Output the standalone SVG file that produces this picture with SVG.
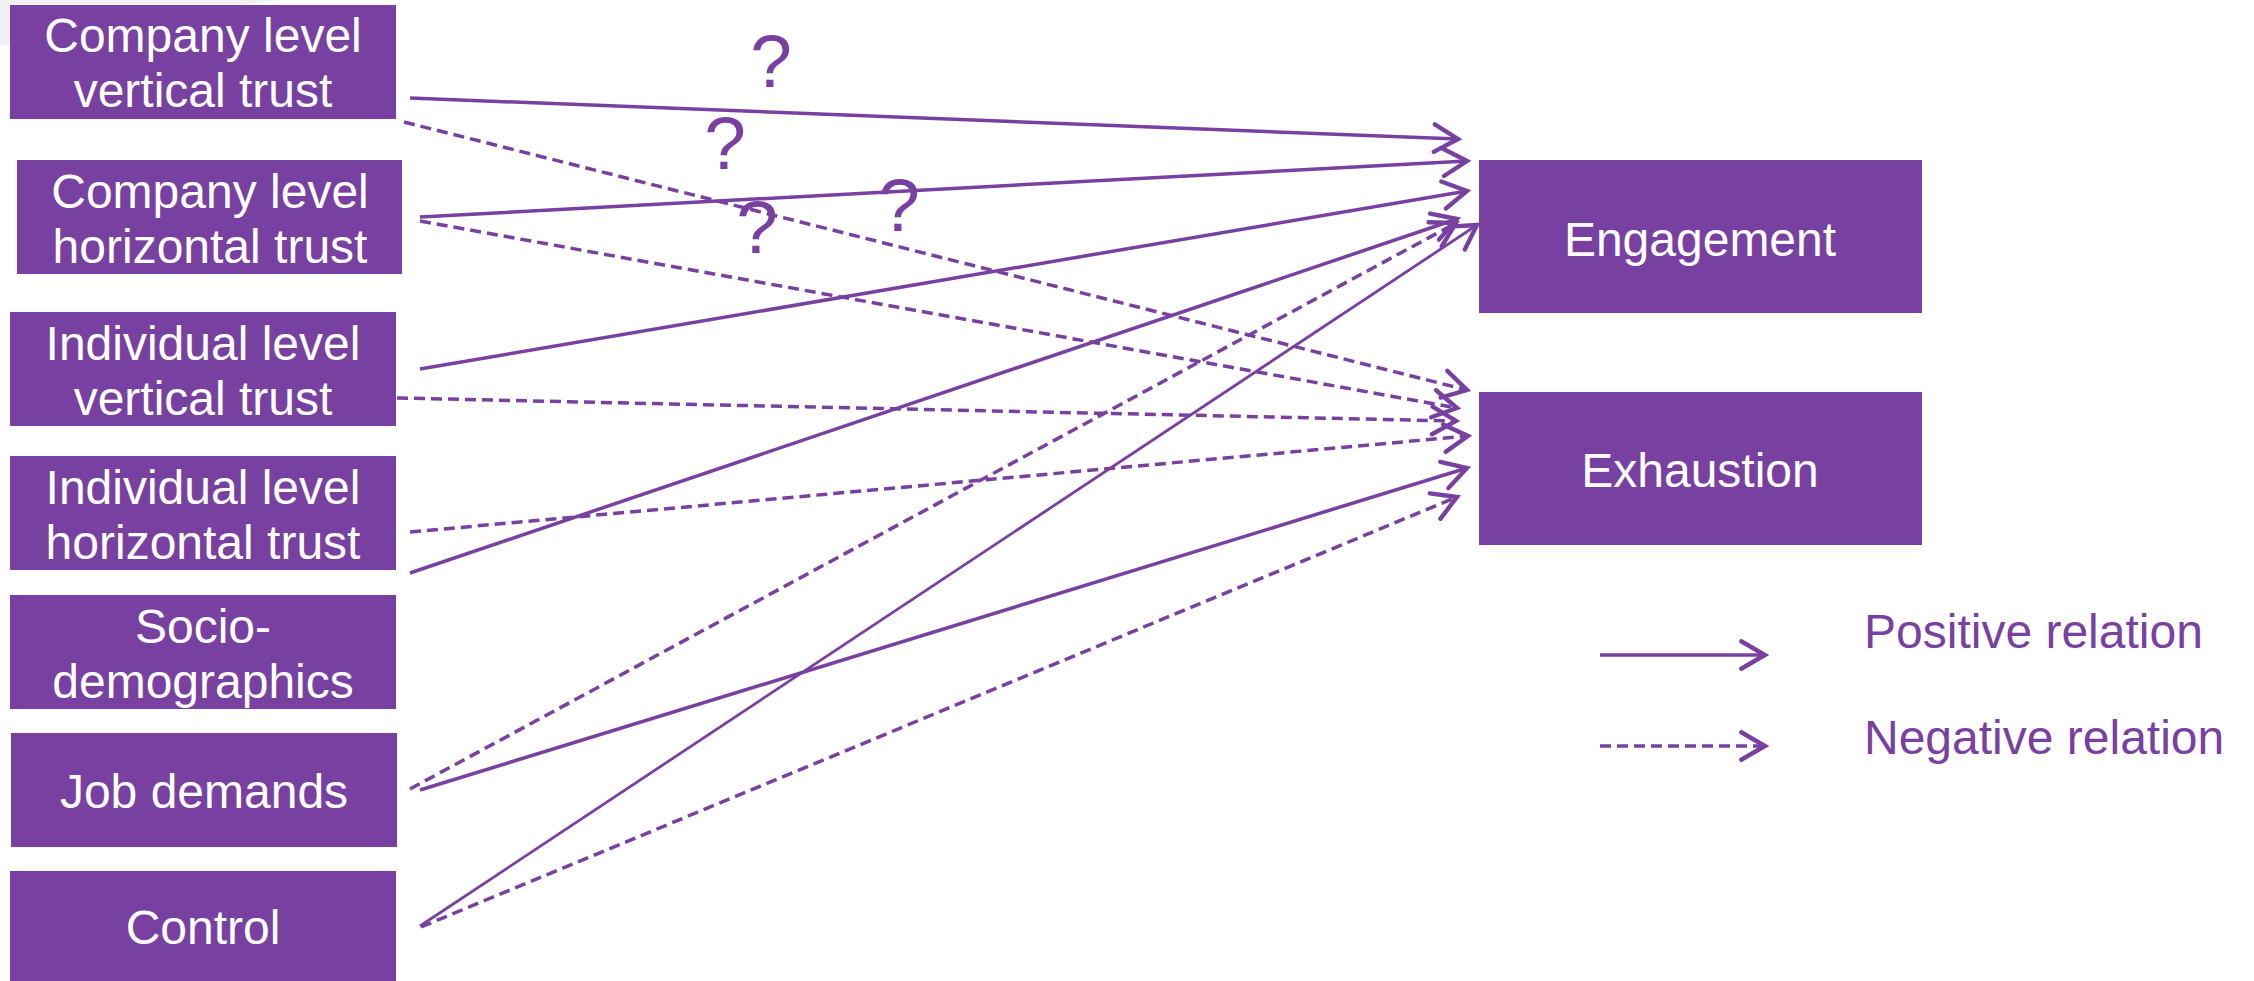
<svg xmlns="http://www.w3.org/2000/svg" width="2254" height="981" viewBox="0 0 2254 981">
<style>
.box{fill:#7841A1}
.bt{fill:#FFFFFF;font-family:"Liberation Sans",Arial,sans-serif;font-size:48px;text-anchor:middle}
.lt{fill:#7841A1;font-family:"Liberation Sans",Arial,sans-serif;font-size:48px}
.q{fill:#7841A1;font-family:"Liberation Sans",Arial,sans-serif;font-size:75px;text-anchor:middle}
.c{stroke:#7841A1;stroke-width:3.5;fill:none;marker-end:url(#ah)}
.d{stroke-dasharray:11 6}
</style>
<defs>
<marker id="ah" markerUnits="userSpaceOnUse" orient="auto" markerWidth="40" markerHeight="40" refX="0" refY="0" viewBox="-24 -16 28 32" overflow="visible">
<path d="M-19,-11 L0,0 L-19,11" fill="none" stroke="#7841A1" stroke-width="3.5" stroke-linecap="round" stroke-linejoin="miter"/>
</marker>
</defs>
<rect width="2254" height="981" fill="#FFFFFF"/>
<path d="M0,0 L278,0 Q140,18 0,46 Z" fill="#F1F1F1"/>

<g id="n-clvt"><rect class="box" x="10" y="5" width="386" height="114"/><text class="bt" x="203" y="52">Company level</text><text class="bt" x="203" y="107">vertical trust</text></g>
<g id="n-clht"><rect class="box" x="17" y="160" width="385" height="114"/><text class="bt" x="210" y="208">Company level</text><text class="bt" x="210" y="263">horizontal trust</text></g>
<g id="n-ilvt"><rect class="box" x="10" y="312" width="386" height="114"/><text class="bt" x="203" y="360">Individual level</text><text class="bt" x="203" y="415">vertical trust</text></g>
<g id="n-ilht"><rect class="box" x="10" y="456" width="386" height="114"/><text class="bt" x="203" y="504">Individual level</text><text class="bt" x="203" y="559">horizontal trust</text></g>
<g id="n-socio"><rect class="box" x="10" y="595" width="386" height="114"/><text class="bt" x="203" y="643">Socio-</text><text class="bt" x="203" y="698">demographics</text></g>
<g id="n-jobdemands"><rect class="box" x="11" y="733" width="386" height="114"/><text class="bt" x="204" y="808">Job demands</text></g>
<g id="n-control"><rect class="box" x="10" y="871" width="386" height="110"/><text class="bt" x="203" y="944">Control</text></g>
<g id="n-engagement"><rect class="box" x="1479" y="160" width="443" height="153"/><text class="bt" x="1700" y="256">Engagement</text></g>
<g id="n-exhaustion"><rect class="box" x="1479" y="392" width="443" height="153"/><text class="bt" x="1700" y="487">Exhaustion</text></g>

<g id="connectors">
<line class="c" x1="410" y1="98" x2="1458" y2="139"/>
<line class="c" x1="420" y1="217" x2="1467" y2="161"/>
<line class="c" x1="420" y1="369" x2="1467" y2="191"/>
<line class="c" x1="410" y1="573" x2="1457" y2="219"/>
<line class="c" x1="420" y1="790" x2="1467" y2="468"/>
<line class="c" x1="420" y1="926" x2="1477" y2="225" style="stroke-width:2.8"/>
<line class="c d" x1="404" y1="122" x2="1467" y2="390"/>
<line class="c d" x1="420" y1="221" x2="1457" y2="408"/>
<line class="c d" x1="397" y1="398" x2="1456" y2="421"/>
<line class="c d" x1="410" y1="532" x2="1468" y2="436"/>
<line class="c d" x1="410" y1="789" x2="1456" y2="223"/>
<line class="c d" x1="421" y1="927" x2="1457" y2="497"/>
</g>

<g id="questions">
<text class="q" x="771" y="87">?</text>
<text class="q" x="725" y="169">?</text>
<text class="q" x="757" y="253">?</text>
<text class="q" x="899" y="231">?</text>
</g>

<g id="legend">
<line class="c" x1="1600" y1="655" x2="1765" y2="655"/>
<line class="c d" x1="1600" y1="746" x2="1765" y2="746"/>
<text class="lt" x="1864" y="648">Positive relation</text>
<text class="lt" x="1864" y="754">Negative relation</text>
</g>
</svg>
